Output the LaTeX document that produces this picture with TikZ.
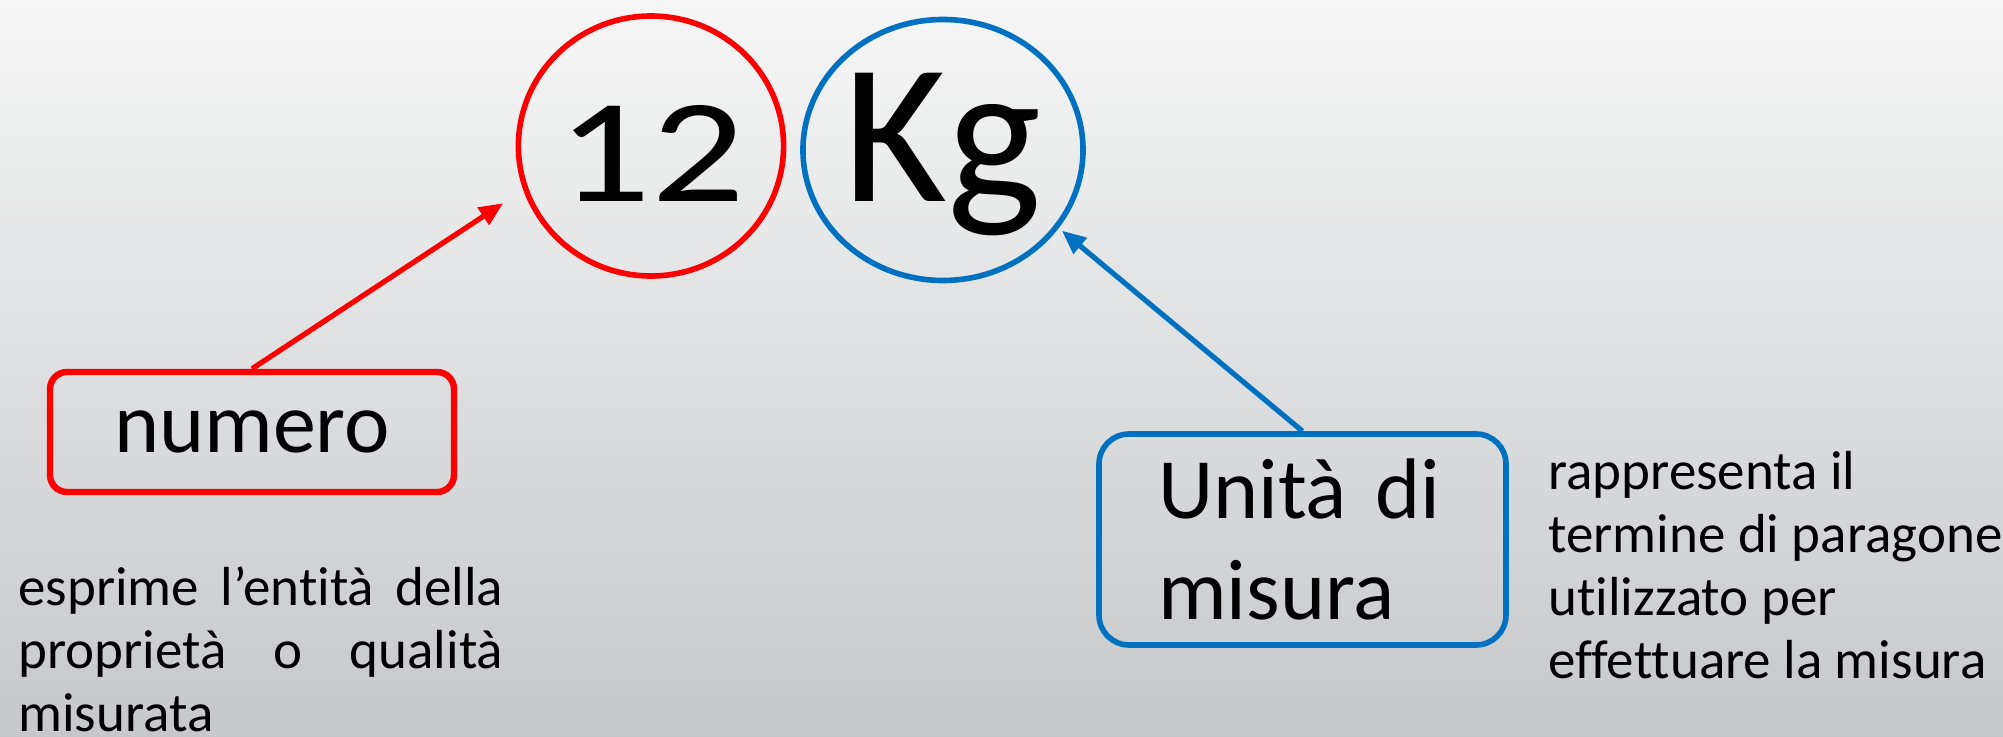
\documentclass[tikz,border=0pt]{standalone}
\usepackage{fontspec}
\setmainfont{Carlito}[Ligatures={TeX,NoCommon}]
\usetikzlibrary{shapes.geometric, arrows.meta}
\definecolor{numred}{RGB}{255,0,0}
\definecolor{unitblue}{RGB}{0,112,192}
\definecolor{bgtop}{RGB}{246,246,246}
\definecolor{bgbottom}{RGB}{198,200,202}
\hbadness=10000
\tikzset{
	ring/.style={draw, ellipse, line width=2.8pt, inner sep=0pt, text depth=0pt}
}
\tikzset{
	labelbox/.style={draw, line width=2.8pt, inner sep=0pt, font=\fontsize{43}{50.5}\selectfont}
}
\tikzset{
	desctext/.style={inner sep=0pt, font=\fontsize{27.5}{31.5}\selectfont}
}

\begin{document}
\begin{tikzpicture}[x=0.5pt, y=-0.5pt, >={Triangle[length=12pt, width=10pt]}]
      % slide background
      \shade[top color=bgtop, bottom color=bgbottom] (0,0) rectangle (2003,737);
      \useasboundingbox (0,0) rectangle (2003,737);

      \node[ring, draw=numred, minimum width=131.5pt, minimum height=130pt, text height=56pt, font=\fontsize{74}{74}\selectfont] (num) at (651,146) {\scalebox{1.25}[1]{12}};
      \node[ring, draw=unitblue, minimum width=137.5pt, minimum height=130.5pt, text height=52pt, font=\fontsize{100}{100}\selectfont] (unit) at (943,150) {Kg};

      \node[labelbox, draw=numred, line width=3.2pt, rounded corners=8.5pt, minimum width=202pt, minimum height=60pt] (numbox) at (252,432) {numero};
      \node[labelbox, draw=unitblue, rounded corners=15pt, minimum width=203.5pt, minimum height=105.5pt, text width=144.5pt, align=left] (unitbox) at (1302.5,539.5) {Unità di\\misura};

      \node[desctext, anchor=north west, text width=242.5pt, align=justify] (numdesc) at (18,566) {esprime l’entità della\linebreak proprietà o qualità\linebreak misurata};
      \node[desctext, anchor=north west, align=left] (unitdesc) at (1548,451) {rappresenta il\\termine di paragone\\utilizzato per\\effettuare la misura};

      % arrows from the labels up to the rings
      \draw[->, numred, line width=2.6pt, shorten >=12pt] (numbox.north) -- (num.199);
      \draw[->, unitblue, line width=2.6pt, shorten >=2pt] (unitbox.north) -- (unit.326);
    \end{tikzpicture}
\end{document}
